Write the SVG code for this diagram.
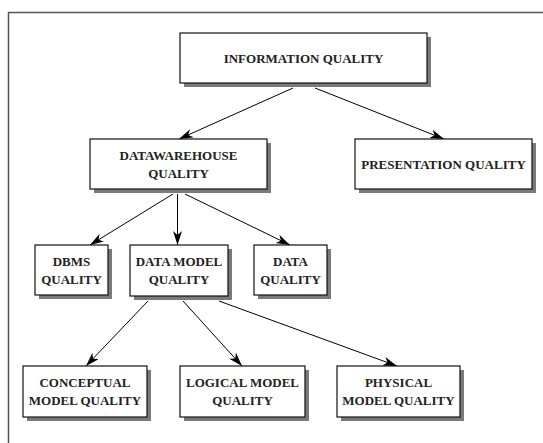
<svg xmlns="http://www.w3.org/2000/svg" width="543" height="443" viewBox="0 0 543 443">
<defs>
<marker id="ah" markerUnits="userSpaceOnUse" markerWidth="15" markerHeight="10" refX="14" refY="4.5" orient="auto">
<path d="M0,0 L14,4.5 L0,9 L4,4.5 Z" fill="#000"/>
</marker>
</defs>
<style>
.sh{fill:#7a7a7a}
.bx{fill:#fff;stroke:#111;stroke-width:1.2}
.t{font-family:"Liberation Serif","Times New Roman",serif;font-weight:bold;font-size:13px;fill:#222;text-anchor:middle}
.c{stroke:#000;stroke-width:1;fill:none;marker-end:url(#ah)}
</style>
<rect width="543" height="443" fill="#fff"/>
<path d="M8.5,443 L8.5,12.5 L543,12.5" fill="none" stroke="#555" stroke-width="1.5"/>
<g id="connectors">
<line class="c" x1="293" y1="88" x2="179" y2="139"/>
<line class="c" x1="315" y1="88" x2="444" y2="139"/>
<line class="c" x1="173" y1="194" x2="90" y2="245"/>
<line class="c" x1="177.5" y1="194" x2="177.5" y2="245"/>
<line class="c" x1="185" y1="194" x2="290" y2="245"/>
<line class="c" x1="148" y1="301" x2="86" y2="366"/>
<line class="c" x1="183" y1="301" x2="242" y2="366"/>
<line class="c" x1="219" y1="301" x2="397" y2="366"/>
</g>
<g id="information-quality">
<rect class="sh" x="184" y="37" width="247" height="50"/>
<rect class="bx" x="180" y="33" width="247" height="50"/>
<text class="t" x="303.5" y="62.5">INFORMATION QUALITY</text>
</g>
<g id="datawarehouse-quality">
<rect class="sh" x="94" y="143" width="177" height="50"/>
<rect class="bx" x="90" y="139" width="177" height="50"/>
<text class="t" x="178.5" y="159.5">DATAWAREHOUSE</text>
<text class="t" x="178.5" y="177.5">QUALITY</text>
</g>
<g id="presentation-quality">
<rect class="sh" x="359" y="143" width="177" height="50"/>
<rect class="bx" x="355" y="139" width="177" height="50"/>
<text class="t" x="443.5" y="168.5">PRESENTATION QUALITY</text>
</g>
<g id="dbms-quality">
<rect class="sh" x="39" y="249" width="73" height="50"/>
<rect class="bx" x="35" y="245" width="73" height="50"/>
<text class="t" x="71.5" y="265.5">DBMS</text>
<text class="t" x="71.5" y="283.5">QUALITY</text>
</g>
<g id="data-model-quality">
<rect class="sh" x="134" y="249" width="98" height="51"/>
<rect class="bx" x="130" y="245" width="98" height="51"/>
<text class="t" x="179" y="265.5">DATA MODEL</text>
<text class="t" x="179" y="283.5">QUALITY</text>
</g>
<g id="data-quality">
<rect class="sh" x="258" y="249" width="73" height="50"/>
<rect class="bx" x="254" y="245" width="73" height="50"/>
<text class="t" x="290.5" y="265.5">DATA</text>
<text class="t" x="290.5" y="283.5">QUALITY</text>
</g>
<g id="conceptual-model-quality">
<rect class="sh" x="27" y="370" width="124" height="51"/>
<rect class="bx" x="23" y="366" width="124" height="51"/>
<text class="t" x="85" y="387">CONCEPTUAL</text>
<text class="t" x="85" y="405">MODEL QUALITY</text>
</g>
<g id="logical-model-quality">
<rect class="sh" x="184" y="370" width="125" height="51"/>
<rect class="bx" x="180" y="366" width="125" height="51"/>
<text class="t" x="242.5" y="387">LOGICAL MODEL</text>
<text class="t" x="242.5" y="405">QUALITY</text>
</g>
<g id="physical-model-quality">
<rect class="sh" x="341" y="370" width="123" height="51"/>
<rect class="bx" x="337" y="366" width="123" height="51"/>
<text class="t" x="398.5" y="387">PHYSICAL</text>
<text class="t" x="398.5" y="405">MODEL QUALITY</text>
</g>
</svg>
